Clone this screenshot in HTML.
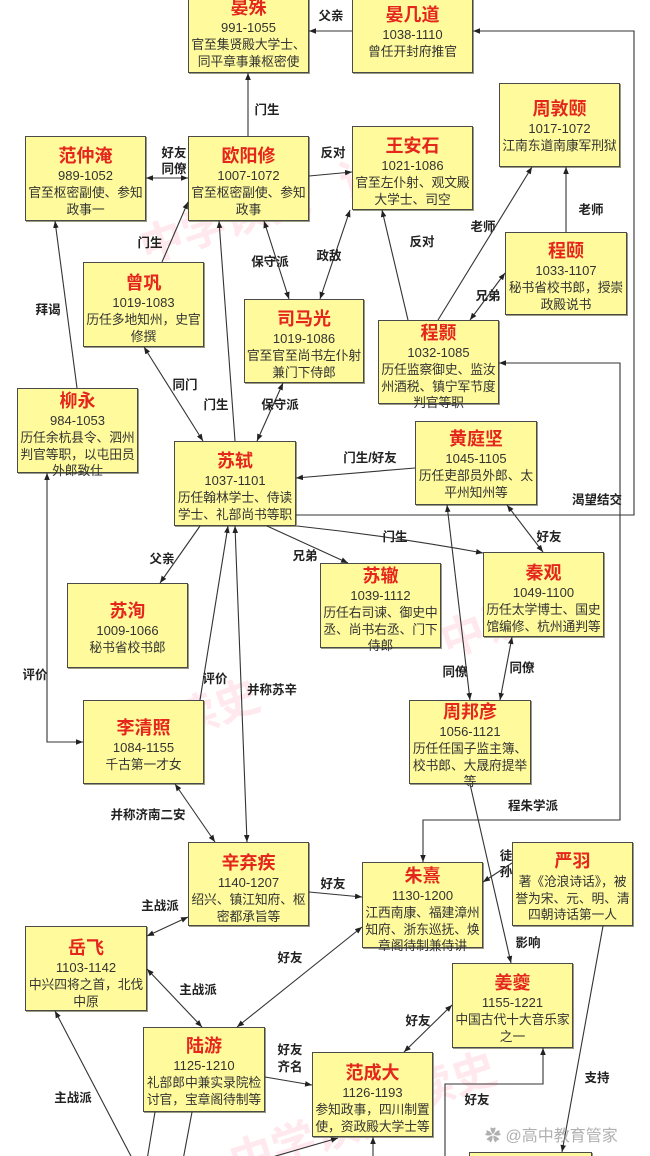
<!DOCTYPE html>
<html><head><meta charset="utf-8">
<style>
html,body{margin:0;padding:0;background:#fff;width:650px;height:1156px;overflow:hidden;}
#w{position:relative;width:650px;height:1156px;overflow:hidden;font-family:"Liberation Sans","Noto Sans CJK SC",sans-serif;background:#fff;}
.b{position:absolute;box-sizing:border-box;background:#fffb9c;border:1.5px solid #4a4a4a;box-shadow:1px 1px 0 #9a9a80;text-align:center;color:#333;white-space:nowrap;overflow:visible;}
.n{display:block;height:22px;line-height:22px;font-size:18px;font-weight:bold;color:#e4261c;}
.y{display:block;height:18px;line-height:18px;font-size:13px;color:#333;}
.d{display:block;line-height:16.5px;font-size:12.8px;color:#333;letter-spacing:-0.1px;}
.l{position:absolute;transform:translate(-50%,-50%);font-size:12.5px;font-weight:bold;color:#222;white-space:nowrap;line-height:14px;}
.wm{position:absolute;color:rgba(255,120,150,0.16);font-weight:bold;font-size:44px;white-space:nowrap;transform-origin:left top;}
svg{position:absolute;left:0;top:0;}
</style></head><body><div id="w">

<div class="wm" style="left:130px;top:215px;transform:rotate(-18deg);">中学读史</div>
<div class="wm" style="left:330px;top:150px;transform:rotate(-18deg);">读史</div>
<div class="wm" style="left:430px;top:610px;transform:rotate(-20deg);">中读史</div>
<div class="wm" style="left:80px;top:720px;transform:rotate(-20deg);">中学读史</div>
<div class="wm" style="left:220px;top:1130px;transform:rotate(-18deg);">中学读史</div>
<div class="wm" style="left:400px;top:1060px;transform:rotate(-18deg);">读史</div>

<div class="b" style="left:188px;top:-12px;width:121px;height:85px;padding-top:8px;"><span class="n">晏殊</span><span class="y">991-1055</span><span class="d">官至集贤殿大学士、<br>同平章事兼枢密使</span></div>
<div class="b" style="left:352px;top:-12px;width:121px;height:85px;padding-top:15px;"><span class="n">晏几道</span><span class="y">1038-1110</span><span class="d">曾任开封府推官</span></div>
<div class="b" style="left:25px;top:136px;width:121px;height:85px;padding-top:8px;"><span class="n">范仲淹</span><span class="y">989-1052</span><span class="d">官至枢密副使、参知<br>政事一</span></div>
<div class="b" style="left:188px;top:136px;width:121px;height:85px;padding-top:8px;"><span class="n">欧阳修</span><span class="y">1007-1072</span><span class="d">官至枢密副使、参知<br>政事</span></div>
<div class="b" style="left:352px;top:126px;width:121px;height:84px;padding-top:8px;"><span class="n">王安石</span><span class="y">1021-1086</span><span class="d">官至左仆射、观文殿<br>大学士、司空</span></div>
<div class="b" style="left:499px;top:83px;width:121px;height:84px;padding-top:14px;"><span class="n">周敦颐</span><span class="y">1017-1072</span><span class="d">江南东道南康军刑狱</span></div>
<div class="b" style="left:83px;top:262px;width:121px;height:85px;padding-top:9px;"><span class="n">曾巩</span><span class="y">1019-1083</span><span class="d">历任多地知州，史官<br>修撰</span></div>
<div class="b" style="left:505px;top:232px;width:122px;height:83px;padding-top:7px;"><span class="n">程颐</span><span class="y">1033-1107</span><span class="d">秘书省校书郎，授崇<br>政殿说书</span></div>
<div class="b" style="left:244px;top:299px;width:120px;height:84px;padding-top:8px;"><span class="n">司马光</span><span class="y">1019-1086</span><span class="d">官至官至尚书左仆射<br>兼门下侍郎</span></div>
<div class="b" style="left:378px;top:320px;width:121px;height:84px;padding-top:1px;"><span class="n">程颢</span><span class="y">1032-1085</span><span class="d">历任监察御史、监汝<br>州酒税、镇宁军节度<br>判官等职</span></div>
<div class="b" style="left:17px;top:388px;width:121px;height:85px;padding-top:1px;"><span class="n">柳永</span><span class="y">984-1053</span><span class="d">历任余杭县令、泗州<br>判官等职，以屯田员<br>外郎致仕</span></div>
<div class="b" style="left:415px;top:421px;width:122px;height:84px;padding-top:6px;"><span class="n">黄庭坚</span><span class="y">1045-1105</span><span class="d">历任吏部员外郎、太<br>平州知州等</span></div>
<div class="b" style="left:174px;top:441px;width:122px;height:85px;padding-top:8px;"><span class="n">苏轼</span><span class="y">1037-1101</span><span class="d">历任翰林学士、侍读<br>学士、礼部尚书等职</span></div>
<div class="b" style="left:483px;top:552px;width:121px;height:85px;padding-top:9px;"><span class="n">秦观</span><span class="y">1049-1100</span><span class="d">历任太学博士、国史<br>馆编修、杭州通判等</span></div>
<div class="b" style="left:320px;top:563px;width:121px;height:85px;padding-top:1px;"><span class="n">苏辙</span><span class="y">1039-1112</span><span class="d">历任右司谏、御史中<br>丞、尚书右丞、门下<br>侍郎</span></div>
<div class="b" style="left:67px;top:583px;width:121px;height:85px;padding-top:16px;"><span class="n">苏洵</span><span class="y">1009-1066</span><span class="d">秘书省校书郎</span></div>
<div class="b" style="left:83px;top:700px;width:121px;height:84px;padding-top:16px;"><span class="n">李清照</span><span class="y">1084-1155</span><span class="d">千古第一才女</span></div>
<div class="b" style="left:409px;top:700px;width:122px;height:84px;padding-top:0px;"><span class="n">周邦彦</span><span class="y">1056-1121</span><span class="d">历任任国子监主簿、<br>校书郎、大晟府提举<br>等</span></div>
<div class="b" style="left:188px;top:842px;width:121px;height:84px;padding-top:9px;"><span class="n">辛弃疾</span><span class="y">1140-1207</span><span class="d">绍兴、镇江知府、枢<br>密都承旨等</span></div>
<div class="b" style="left:512px;top:842px;width:121px;height:84px;padding-top:7px;"><span class="n">严羽</span><span class="d" style="margin-top:2px;">著《沧浪诗话》，被<br>誉为宋、元、明、清<br>四朝诗话第一人</span></div>
<div class="b" style="left:362px;top:862px;width:121px;height:86px;padding-top:2px;"><span class="n">朱熹</span><span class="y">1130-1200</span><span class="d">江西南康、福建漳州<br>知府、浙东巡抚、焕<br>章阁待制兼侍讲</span></div>
<div class="b" style="left:25px;top:926px;width:122px;height:85px;padding-top:10px;"><span class="n">岳飞</span><span class="y">1103-1142</span><span class="d">中兴四将之首，北伐<br>中原</span></div>
<div class="b" style="left:452px;top:963px;width:121px;height:85px;padding-top:8px;"><span class="n">姜夔</span><span class="y">1155-1221</span><span class="d">中国古代十大音乐家<br>之一</span></div>
<div class="b" style="left:143px;top:1027px;width:122px;height:85px;padding-top:7px;"><span class="n">陆游</span><span class="y">1125-1210</span><span class="d">礼部郎中兼实录院检<br>讨官，宝章阁待制等</span></div>
<div class="b" style="left:312px;top:1052px;width:121px;height:85px;padding-top:9px;"><span class="n">范成大</span><span class="y">1126-1193</span><span class="d">参知政事，四川制置<br>使，资政殿大学士等</span></div>
<div class="b" style="left:469px;top:1152px;width:123px;height:40px;padding-top:3px;"><span class="n">杨万里</span></div>

<svg width="650" height="1156" viewBox="0 0 650 1156">
<defs>
<marker id="a" viewBox="0 0 10 10" refX="10" refY="5" markerWidth="7" markerHeight="7" markerUnits="userSpaceOnUse" orient="auto-start-reverse"><path d="M0,1 L10,5 L0,9 z" fill="#222"/></marker>
</defs>
<g stroke="#333" stroke-width="1.1" fill="none">
<line x1="248" y1="136" x2="248" y2="73" marker-end="url(#a)"/>
<line x1="352" y1="31" x2="309" y2="31" marker-end="url(#a)"/>
<polyline points="296,515 634,515 634,31 473,31" marker-end="url(#a)"/>
<line x1="146" y1="178" x2="188" y2="178" marker-start="url(#a)" marker-end="url(#a)"/>
<line x1="309" y1="176" x2="352" y2="172" marker-end="url(#a)"/>
<line x1="162" y1="262" x2="188" y2="202" marker-end="url(#a)"/>
<line x1="77" y1="388" x2="55" y2="221" marker-end="url(#a)"/>
<line x1="264" y1="221" x2="289" y2="299" marker-start="url(#a)" marker-end="url(#a)"/>
<line x1="350" y1="210" x2="320" y2="299" marker-start="url(#a)" marker-end="url(#a)"/>
<line x1="408" y1="320" x2="382" y2="210" marker-end="url(#a)"/>
<line x1="438" y1="320" x2="532" y2="167" marker-end="url(#a)"/>
<line x1="566" y1="232" x2="566" y2="167" marker-end="url(#a)"/>
<line x1="505" y1="273" x2="470" y2="320" marker-start="url(#a)" marker-end="url(#a)"/>
<line x1="144" y1="347" x2="203" y2="441" marker-start="url(#a)" marker-end="url(#a)"/>
<line x1="235" y1="441" x2="219" y2="221" marker-end="url(#a)"/>
<line x1="283" y1="383" x2="257" y2="441" marker-start="url(#a)" marker-end="url(#a)"/>
<line x1="415" y1="468" x2="296" y2="478" marker-end="url(#a)"/>
<polyline points="423,862 423,820 620,820 620,363 499,363" marker-start="url(#a)" marker-end="url(#a)"/>
<line x1="200" y1="526" x2="160" y2="583" marker-end="url(#a)"/>
<line x1="267" y1="526" x2="348" y2="563" marker-end="url(#a)"/>
<path d="M297,526 Q390,536 483,553" marker-end="url(#a)"/>
<line x1="507" y1="505" x2="543" y2="552" marker-start="url(#a)" marker-end="url(#a)"/>
<line x1="447" y1="505" x2="470" y2="700" marker-start="url(#a)" marker-end="url(#a)"/>
<line x1="512" y1="637" x2="500" y2="700" marker-start="url(#a)" marker-end="url(#a)"/>
<line x1="470" y1="784" x2="511" y2="963" marker-end="url(#a)"/>
<polyline points="47,473 47,742 83,742" marker-start="url(#a)" marker-end="url(#a)"/>
<line x1="200" y1="700" x2="228" y2="526" marker-end="url(#a)"/>
<line x1="235" y1="526" x2="247" y2="842" marker-start="url(#a)" marker-end="url(#a)"/>
<line x1="175" y1="784" x2="215" y2="842" marker-start="url(#a)" marker-end="url(#a)"/>
<line x1="309" y1="892" x2="362" y2="897" marker-end="url(#a)"/>
<line x1="512" y1="863" x2="483" y2="882" marker-end="url(#a)"/>
<line x1="188" y1="917" x2="147" y2="936" marker-start="url(#a)" marker-end="url(#a)"/>
<line x1="147" y1="969" x2="202" y2="1027" marker-start="url(#a)" marker-end="url(#a)"/>
<line x1="362" y1="927" x2="237" y2="1027" marker-start="url(#a)" marker-end="url(#a)"/>
<line x1="265" y1="1077" x2="312" y2="1085" marker-end="url(#a)"/>
<line x1="452" y1="1005" x2="404" y2="1052" marker-start="url(#a)" marker-end="url(#a)"/>
<line x1="603" y1="926" x2="562" y2="1152" marker-end="url(#a)"/>
<polyline points="445,1160 445,1084 543,1084 543,1048" marker-end="url(#a)"/>
<line x1="133" y1="1160" x2="55" y2="1011" marker-end="url(#a)"/>
<line x1="155" y1="1112" x2="147" y2="1160"/>
<line x1="192" y1="1112" x2="183" y2="1160"/>
<line x1="262" y1="1160" x2="338" y2="1138" marker-end="url(#a)"/>
<line x1="373" y1="1160" x2="373" y2="1137" marker-end="url(#a)"/>
</g>
</svg>

<div class="l" style="left:267px;top:110px;">门生</div>
<div class="l" style="left:331px;top:16px;">父亲</div>
<div class="l" style="left:597px;top:500px;">渴望结交</div>
<div class="l" style="left:174px;top:153px;">好友</div>
<div class="l" style="left:174px;top:169px;">同僚</div>
<div class="l" style="left:333px;top:153px;">反对</div>
<div class="l" style="left:150px;top:243px;">门生</div>
<div class="l" style="left:48px;top:310px;">拜谒</div>
<div class="l" style="left:270px;top:262px;">保守派</div>
<div class="l" style="left:329px;top:256px;">政敌</div>
<div class="l" style="left:422px;top:242px;">反对</div>
<div class="l" style="left:483px;top:227px;">老师</div>
<div class="l" style="left:591px;top:210px;">老师</div>
<div class="l" style="left:488px;top:296px;">兄弟</div>
<div class="l" style="left:185px;top:385px;">同门</div>
<div class="l" style="left:216px;top:405px;">门生</div>
<div class="l" style="left:280px;top:405px;">保守派</div>
<div class="l" style="left:370px;top:458px;">门生/好友</div>
<div class="l" style="left:533px;top:806px;">程朱学派</div>
<div class="l" style="left:162px;top:559px;">父亲</div>
<div class="l" style="left:305px;top:556px;">兄弟</div>
<div class="l" style="left:395px;top:537px;">门生</div>
<div class="l" style="left:549px;top:537px;">好友</div>
<div class="l" style="left:455px;top:672px;">同僚</div>
<div class="l" style="left:522px;top:668px;">同僚</div>
<div class="l" style="left:528px;top:943px;">影响</div>
<div class="l" style="left:35px;top:675px;">评价</div>
<div class="l" style="left:215px;top:679px;">评价</div>
<div class="l" style="left:272px;top:690px;">并称苏辛</div>
<div class="l" style="left:148px;top:815px;">并称济南二安</div>
<div class="l" style="left:333px;top:884px;">好友</div>
<div class="l" style="left:506px;top:856px;">徒</div>
<div class="l" style="left:506px;top:872px;">孙</div>
<div class="l" style="left:160px;top:906px;">主战派</div>
<div class="l" style="left:198px;top:990px;">主战派</div>
<div class="l" style="left:290px;top:958px;">好友</div>
<div class="l" style="left:290px;top:1050px;">好友</div>
<div class="l" style="left:290px;top:1067px;">齐名</div>
<div class="l" style="left:418px;top:1021px;">好友</div>
<div class="l" style="left:597px;top:1078px;">支持</div>
<div class="l" style="left:477px;top:1100px;">好友</div>
<div class="l" style="left:73px;top:1098px;">主战派</div>

<div style="position:absolute;left:485px;top:1122px;font-size:16px;color:rgba(150,150,150,0.75);white-space:nowrap;">✿ @高中教育管家</div>
</div></body></html>
